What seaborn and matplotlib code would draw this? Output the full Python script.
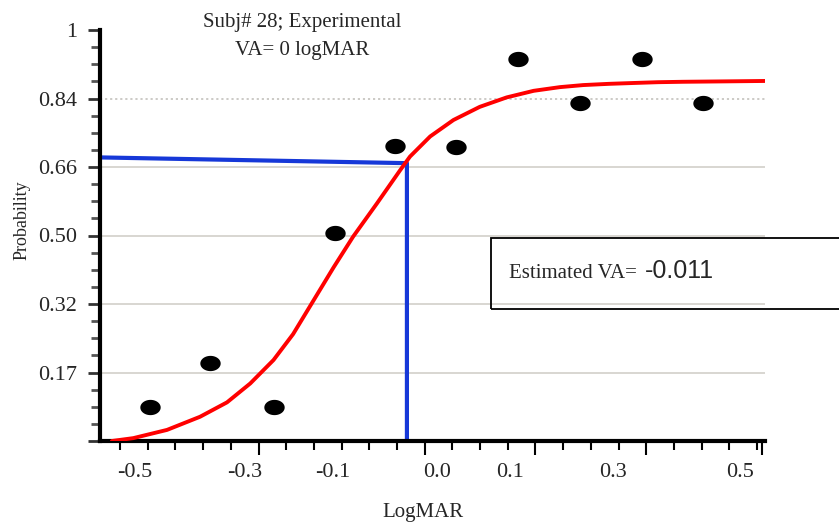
import numpy as np
import matplotlib
matplotlib.use("Agg")
import matplotlib.pyplot as plt
import seaborn as sns
from matplotlib.path import Path
from matplotlib.patches import Rectangle

# ---------------- data ----------------
logmar = [-0.470, -0.371, -0.268, -0.167, -0.069, 0.031, 0.131, 0.233, 0.334, 0.434]
prob = [0.083, 0.189, 0.083, 0.505, 0.718, 0.716, 0.929, 0.823, 0.929, 0.823]

fit_x = [-0.532, -0.497, -0.442, -0.388, -0.344, -0.306, -0.268, -0.236, -0.203,
         -0.170, -0.138, -0.099, -0.061, -0.045, -0.012, 0.026, 0.069, 0.113,
         0.157, 0.200, 0.238, 0.280, 0.319, 0.360, 0.401, 0.470, 0.535]
fit_y = [0.000, 0.007, 0.027, 0.059, 0.094, 0.140, 0.197, 0.260, 0.341,
         0.422, 0.497, 0.578, 0.659, 0.692, 0.741, 0.781, 0.813, 0.836,
         0.852, 0.861, 0.866, 0.869, 0.871, 0.873, 0.874, 0.875, 0.876]

threshold_x = -0.050
threshold_start_y = 0.690
threshold_y = 0.676
estimated_va = "-0.011"

x_tick_labels = ["-0.5", "-0.3", "-0.1", "0.0", "0.1", "0.3", "0.5"]
y_tick_labels = ["", "0.17", "0.32", "0.50", "0.66", "0.84", "1"]
title_lines = ["Subj# 28; Experimental", "VA= 0 logMAR"]
x_title = "LogMAR"
y_title = "Probability"
box_label = "Estimated VA="

# ---------------- layout ----------------
x_label_pos = [-0.494, -0.315, -0.172, -0.001, 0.119, 0.287, 0.494]
x_limits = (-0.5515, 0.5351)
minor_start, minor_step = -0.5188, 0.04526
major_idx = [5, 11, 15, 19]
x_end_mark = 0.530

sns.set_theme(style="white")
plt.rcParams['font.family'] = ['Liberation Serif', 'DejaVu Serif']

W, H = 839, 526
fig = plt.figure(figsize=(W / 100, H / 100), dpi=100)
ax = fig.add_axes([100 / W, 85 / H, 665 / W, 411 / H])
ax.set_facecolor("white")
ax.set_xlim(*x_limits)
ax.set_ylim(0, 1)

# horizontal grid lines
y_major = np.arange(7) / 6
for i, lvl in enumerate(y_major[1:6]):
    top = (i == 4)
    ax.axhline(lvl, color="#c8c6c2" if top else "#d6d3ce", lw=1.3,
               ls=(0, (1.2, 1.6)) if top else "-", zorder=0)

# fitted curve
sns.lineplot(x=fit_x, y=fit_y, sort=False, estimator=None, color="#ff0000",
             lw=2.8, ax=ax, zorder=3, solid_joinstyle="round", solid_capstyle="round")

# threshold lines
bx = [x_limits[0], threshold_x, threshold_x]
by = [threshold_start_y, threshold_y, 0.0]
sns.lineplot(x=bx, y=by, sort=False, estimator=None, color="#1638d8",
             lw=3.0, ax=ax, zorder=2)

# data points (ellipse marker)
t = np.linspace(0, 2 * np.pi, 64)
ell = Path(np.column_stack([np.cos(t), 0.75 * np.sin(t)]), closed=True)
sns.scatterplot(x=logmar, y=prob, marker=ell, s=215, color="black",
                edgecolor="black", linewidth=0, ax=ax, zorder=4)

# spines
for s in ["top", "right"]:
    ax.spines[s].set_visible(False)
for s in ["left", "bottom"]:
    ax.spines[s].set_color("black")
    ax.spines[s].set_linewidth(3.0)

# x ticks: marks only on primary axis
minor_pos = minor_start + np.arange(24) * minor_step
major_pos = [minor_pos[i] for i in major_idx] + [x_end_mark]
ax.set_xticks(major_pos)
ax.set_xticklabels([])
ax.set_xticks(minor_pos, minor=True)
ax.tick_params(axis="x", which="major", direction="out", length=10, width=1.5,
               color="black", bottom=True)
ax.tick_params(axis="x", which="minor", direction="out", length=6.5, width=1.5,
               color="black", bottom=True)

# x tick labels via secondary axis
sec = ax.secondary_xaxis("bottom")
sec.set_xticks(x_label_pos, labels=x_tick_labels)
sec.tick_params(length=0, pad=16, labelsize=16)
sec.spines["bottom"].set_visible(False)

# y ticks
ax.set_yticks(y_major, labels=y_tick_labels)
ax.set_yticks(np.arange(25) / 24, minor=True)
ax.tick_params(axis="y", which="major", direction="out", length=9, width=2,
               color="#333333", labelsize=16, pad=7.5, left=True)
ax.tick_params(axis="y", which="minor", direction="out", length=6.5, width=2,
               color="#555555", left=True)
ax.grid(False)

# titles / labels
fig.text(302.5 / W, 1 - 27 / H, title_lines[0], ha="center", va="baseline", fontsize=15)
fig.text(302.5 / W, 1 - 55 / H, title_lines[1], ha="center", va="baseline", fontsize=15)
fig.text(22 / W, 1 - 220 / H, y_title, rotation=90, ha="center", va="center", fontsize=13)
fig.text(422.5 / W, 1 - 512 / H, x_title, ha="center", va="center", fontsize=15)

# estimate box
fig.add_artist(Rectangle((491 / W, 1 - 309 / H), 400 / W, 71 / H,
                         transform=fig.transFigure, fill=False, ec="black", lw=1.3))
fig.text(509 / W, 1 - 278 / H, box_label, ha="left", va="baseline", fontsize=15)
fig.text(645 / W, 1 - 278 / H, estimated_va, ha="left", va="baseline", fontsize=18,
         family=["Liberation Sans", "DejaVu Sans"])

fig.savefig("out.png", dpi=100)
